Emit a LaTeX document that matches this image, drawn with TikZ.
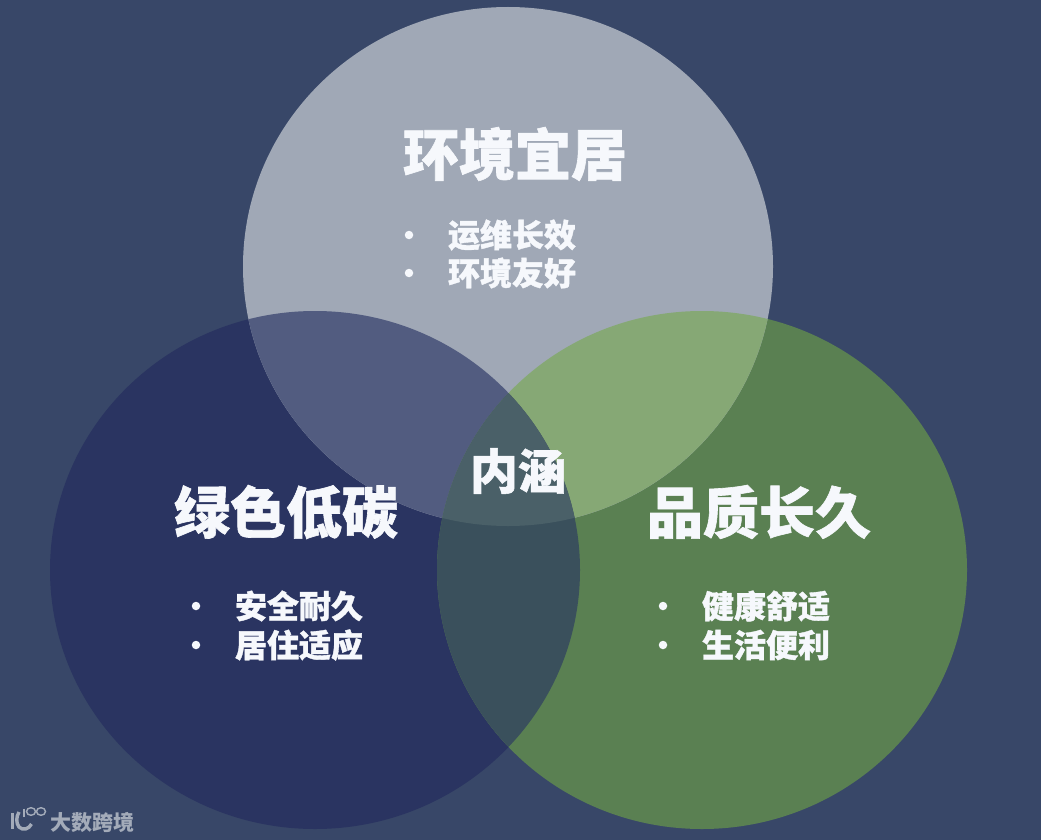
\documentclass[tikz,border=0pt]{standalone}
\usepackage{fontspec}
\newfontfamily\cjk{Noto Sans CJK SC}[BoldFeatures={FakeBold=1.1}]
\newfontfamily\cjkplain{Noto Sans CJK SC}
\definecolor{bgc}{HTML}{384768}
\definecolor{topc}{HTML}{A0A8B6}
\definecolor{leftc}{HTML}{2A3461}
\definecolor{rightc}{HTML}{5A8052}
\definecolor{ltc}{HTML}{525C80}
\definecolor{trc}{HTML}{86A875}
\definecolor{lrc}{HTML}{3A505C}
\definecolor{midc}{HTML}{4A6068}
\definecolor{txtc}{HTML}{F6F8FC}
\definecolor{markc}{HTML}{A3ABB9}
\tikzset{
  x=1pt,y=-1pt,
  title/.style={font=\cjk\bfseries\fontsize{56}{60}\selectfont,text=txtc,inner sep=0pt,anchor=center},
  centre/.style={font=\cjk\bfseries\fontsize{48}{52}\selectfont,text=txtc,inner sep=0pt,anchor=center},
  item/.style={font=\cjk\bfseries\fontsize{32}{36}\selectfont,text=txtc,inner sep=0pt,anchor=center},
  dotm/.style={circle,fill=txtc,minimum size=8.5pt,inner sep=0pt},
  wm/.style={font=\cjkplain\bfseries\fontsize{21}{24}\selectfont,text=markc,inner sep=0pt,anchor=center},
  logo/.style={draw=markc,line width=3.4pt,fill=none},
  logothin/.style={draw=markc,line width=1.4pt,fill=none}
}
\newcommand{\shT}{(508,266.5) ellipse [x radius=265,y radius=259.5]}
\newcommand{\shL}{(315,570) ellipse [x radius=265,y radius=259]}
\newcommand{\shR}{(702,570) ellipse [x radius=265,y radius=259]}
\begin{document}
\begin{tikzpicture}
\useasboundingbox (0,0) rectangle (1041,840);
\fill[bgc] (0,0) rectangle (1041,840);
\fill[leftc] \shL;
\fill[rightc] \shR;
\fill[topc] \shT;
\begin{scope}\clip \shL; \fill[ltc] \shT; \end{scope}
\begin{scope}\clip \shR; \fill[trc] \shT; \end{scope}
\begin{scope}\clip \shL; \fill[lrc] \shR; \end{scope}
\begin{scope}\clip \shL; \clip \shR; \fill[midc] \shT; \end{scope}

\node[title] (t1) at (515,154) {环境宜居};
\node[dotm] (d1) at (409,235) {};
\node[item] (t1a) at (512,235) {运维长效};
\node[dotm] (d2) at (409,273) {};
\node[item] (t1b) at (512,273) {环境友好};

\node[centre] (c) at (518,471) {内涵};

\node[title] (t2) at (286,512) {绿色低碳};
\node[dotm] (d3) at (196,606) {};
\node[item] (t2a) at (299,606) {安全耐久};
\node[dotm] (d4) at (196,645) {};
\node[item] (t2b) at (299,645) {居住适应};

\node[title] (t3) at (759,512) {品质长久};
\node[dotm] (d5) at (663,606) {};
\node[item] (t3a) at (766,606) {健康舒适};
\node[dotm] (d6) at (663,645) {};
\node[item] (t3b) at (766,645) {生活便利};

\node[wm] (w) at (92,822) {大数跨境};
\draw[logo] (12.5,813) -- (12.5,829);
\draw[logo] (19,812) .. controls (16,817) and (16,823) .. (19,827) .. controls (23,831) and (29,829) .. (31.5,824);
\draw[logothin] (24,808.5) -- (24,817);
\draw[logothin] (31,811.5) ellipse [x radius=4.5,y radius=3.8];
\draw[logothin] (41,811.5) ellipse [x radius=4.5,y radius=3.8];
\end{tikzpicture}
\end{document}
